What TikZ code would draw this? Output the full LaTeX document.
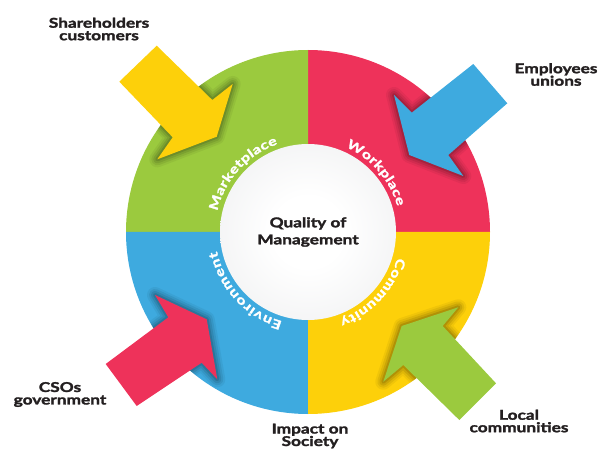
\documentclass[tikz,border=0pt]{standalone}
\usepackage{fontspec}
\setmainfont{Lato}
\newfontfamily\lblfont{Lato}[FakeStretch=1.28, BoldFeatures={FakeStretch=1.28, FakeBold=2}]
\usetikzlibrary{decorations.text}

\definecolor{ringgreen}{RGB}{155,202,62}
\definecolor{ringred}{RGB}{238,50,90}
\definecolor{ringblue}{RGB}{62,170,223}
\definecolor{ringyellow}{RGB}{253,208,10}
\definecolor{labeltext}{RGB}{35,31,32}
\definecolor{hubedge}{RGB}{206,208,212}

% hub shading: white centre, fading to grey towards the rim
\pgfdeclareradialshading{hubshade}{\pgfpoint{0bp}{0bp}}{%
  color(0bp)=(white); color(10bp)=(white);
  color(32bp)=(white!70!hubedge); color(50bp)=(hubedge)}

% block arrow outlines (tail, shaft, head)
\def\arrYellow{(119.3,366.3) -- (156.7,402.3) -- (212.3,348) -- (232.7,364) -- (216.7,311.3) -- (157.3,288.7) -- (172.7,310.7) -- cycle}
\def\arrBlue{(473.3,384) -- (507.3,344.7) -- (448.3,293) -- (463.3,272) -- (409.3,293) -- (394,353) -- (411.7,335.3) -- cycle}
\def\arrRed{(105.7,84) -- (136.7,42) -- (201.7,85.3) -- (217.3,68.7) -- (206.7,128.7) -- (155,153) -- (168.3,130.7) -- cycle}
\def\arrGreen{(496,64.7) -- (459.3,28) -- (403.3,83) -- (383.3,66.3) -- (401.7,122) -- (458.3,140.7) -- (442.7,122) -- cycle}

\tikzset{
  x=1pt, y=1pt,
  outerlabel/.style={font=\lblfont\bfseries\fontsize{13.5}{12.5}\selectfont, text=labeltext, align=center, inner sep=0pt},
  hublabel/.style={font=\lblfont\bfseries\fontsize{13.5}{17}\selectfont, text=labeltext, align=center, inner sep=0pt},
  arclabel/.style={decorate, decoration={text along path, text align={fit to path}, text color=white}},
  glow/.style={draw=black, line join=round, opacity=#1},
}

\begin{document}
\begin{tikzpicture}
\useasboundingbox (0,0) rectangle (603,448);
\coordinate (C) at (308,216);

% four quadrants of the ring
\fill[ringred]    (C) -- ++(0:182) arc[start angle=0, end angle=90, radius=182] -- cycle;
\fill[ringgreen]  (C) -- ++(90:182) arc[start angle=90, end angle=180, radius=182] -- cycle;
\fill[ringblue]   (C) -- ++(180:182) arc[start angle=180, end angle=270, radius=182] -- cycle;
\fill[ringyellow] (C) -- ++(270:182) arc[start angle=270, end angle=360, radius=182] -- cycle;

% central hub
\shade[shading=hubshade] (C) circle (88);
\node[hublabel] (hub) at (C) {Quality of\\Management};

% quadrant names along the ring
\def\arcfont{|\lblfont\bfseries\fontsize{12.5}{12.5}\selectfont|}
\path[arclabel, decoration={text={\arcfont Marketplace}}] (C) ++(167:93) arc[start angle=167, end angle=109, radius=93];
\path[arclabel, decoration={text={\arcfont Workplace}}] (C) ++(66:93) arc[start angle=66, end angle=16, radius=93];
\path[arclabel, decoration={text={\arcfont Community}}] (C) ++(-16:93) arc[start angle=-16, end angle=-70, radius=93];
\path[arclabel, decoration={text={\arcfont Environment}}] (C) ++(254:93) arc[start angle=254, end angle=192, radius=93];

% soft shadows under the arrows, visible on the ring only
\begin{scope}
  \clip (C) circle (182);
  \foreach \w/\o in {16/0.05, 12/0.07, 8/0.09, 4/0.12} {
    \draw[glow=\o, line width=\w pt] \arrYellow;
    \draw[glow=\o, line width=\w pt] \arrBlue;
    \draw[glow=\o, line width=\w pt] \arrRed;
    \draw[glow=\o, line width=\w pt] \arrGreen;
  }
\end{scope}

% arrows
\fill[ringyellow] \arrYellow;
\fill[ringblue]   \arrBlue;
\fill[ringred]    \arrRed;
\fill[ringgreen]  \arrGreen;

% stakeholder labels
\node[outerlabel] (share) at (99,419)   {Shareholders\\customers};
\node[outerlabel] (empl)  at (556,373.5) {Employees\\unions};
\node[outerlabel] (cso)   at (60,53.5)  {CSOs\\government};
\node[outerlabel] (impact) at (310,12)  {Impact on\\Society};
\node[outerlabel] (local) at (519,27)   {Local\\communities};
\end{tikzpicture}
\end{document}
